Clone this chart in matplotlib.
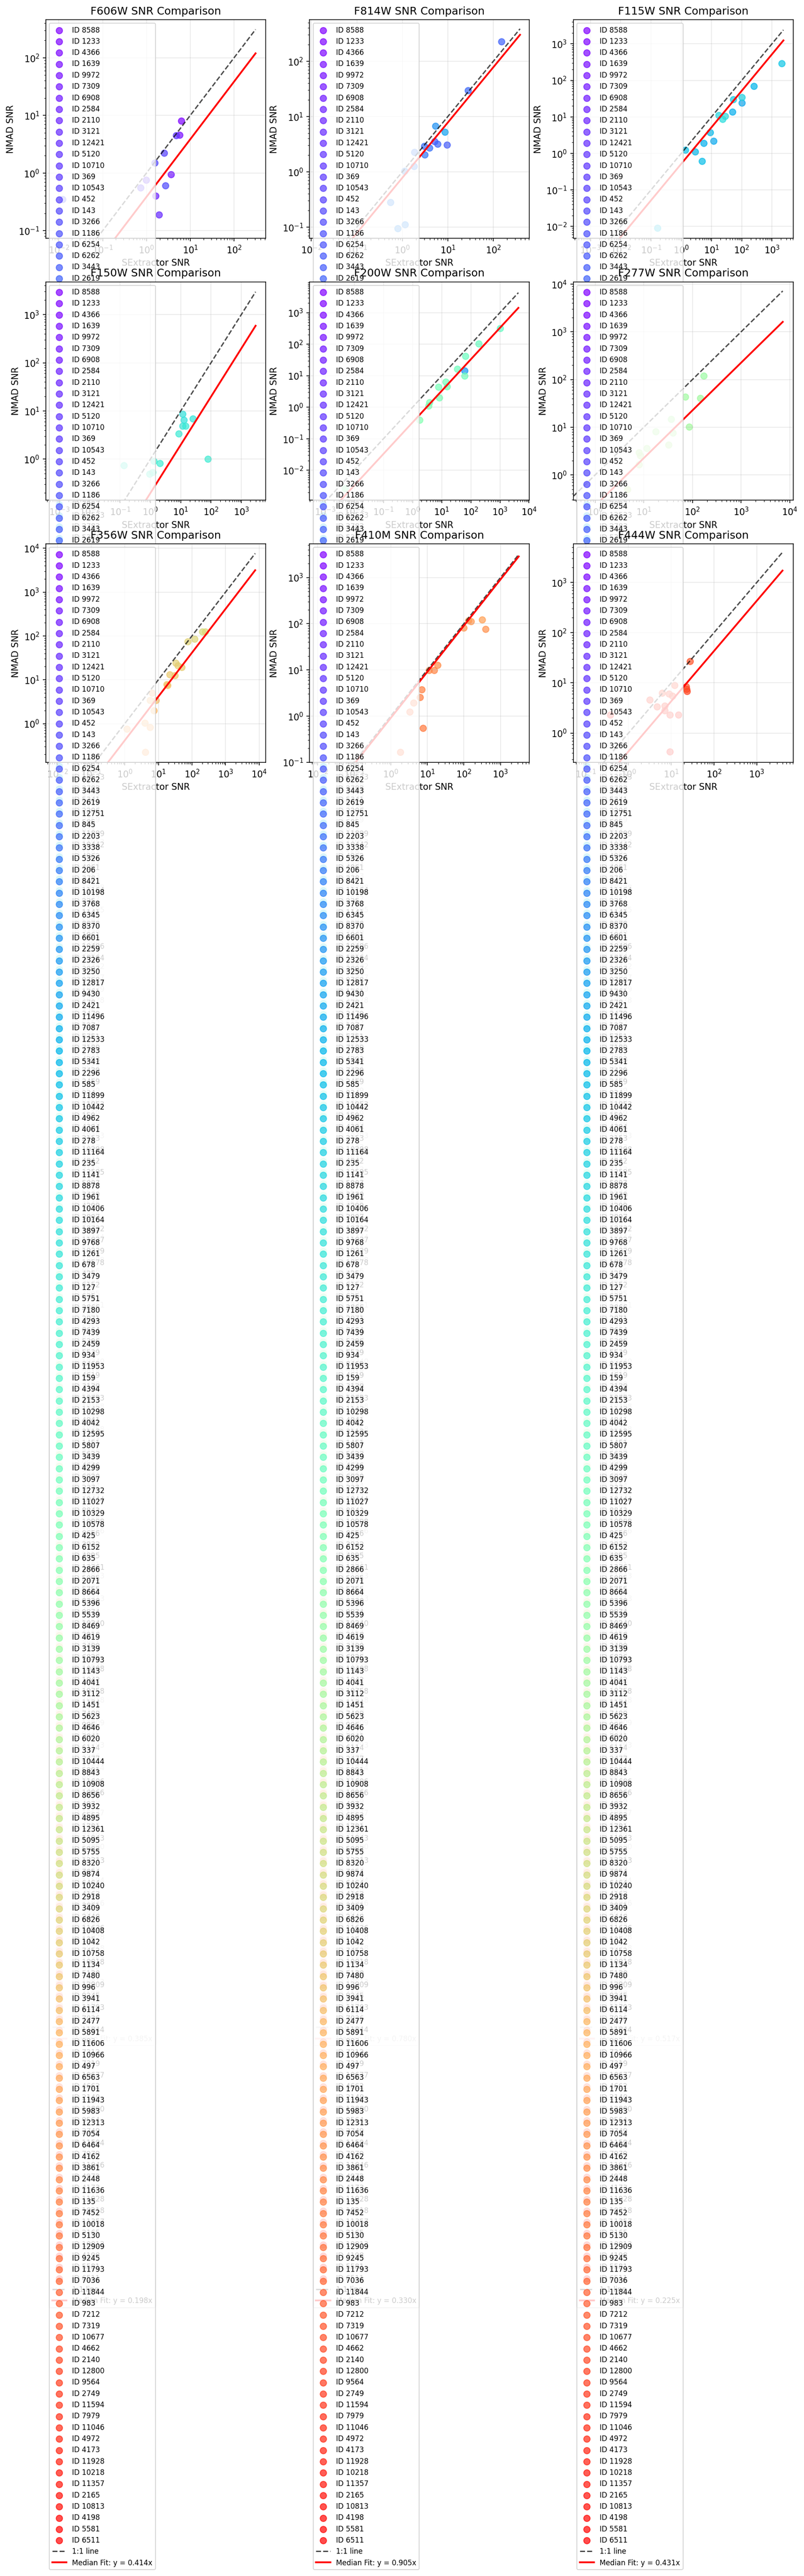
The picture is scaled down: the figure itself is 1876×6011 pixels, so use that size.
import numpy as np
import matplotlib.pyplot as plt

# source IDs in catalogue order (legend order)
source_ids = [
    8588, 1233, 4366, 1639, 9972, 7309, 6908, 2584, 2110, 3121, 12421, 5120, 10710, 369, 10543, 452, 143, 3266, 1186, 6254,
    6262, 3443, 2619, 12751, 845, 2203, 3338, 5326, 206, 8421, 10198, 3768, 6345, 8370, 6601, 2259, 2326, 3250, 12817, 9430,
    2421, 11496, 7087, 12533, 2783, 5341, 2296, 585, 11899, 10442, 4962, 4061, 278, 11164, 235, 1141, 8878, 1961, 10406, 10164,
    3897, 9768, 1261, 678, 3479, 127, 5751, 7180, 4293, 7439, 2459, 934, 11953, 159, 4394, 2153, 10298, 4042, 12595,
    5807, 3439, 4299, 3097, 12732, 11027, 10329, 10578, 425, 6152, 635, 2866, 2071, 8664, 5396, 5539, 8469, 4619, 3139,
    10793, 1143, 4041, 3112, 1451, 5623, 4646, 6020, 337, 10444, 8843, 10908, 8656, 3932, 4895, 12361, 5095, 5755, 8320, 9874,
    10240, 2918, 3409, 6826, 10408, 1042, 10758, 1134, 7480, 996, 3941, 6114, 2477, 5891, 11606, 10966, 497, 6563, 1701, 11943,
    5983, 12313, 7054, 6464, 4162, 3861, 2448, 11636, 135, 7452, 10018, 5130, 12909, 9245, 11793, 7036, 11844, 983, 7212,
    7319, 10677, 4662, 2140, 12800, 9564, 2749, 11594, 7979, 11046, 4972, 4173, 11928, 10218, 11357, 2165, 10813, 4198, 5581, 6511,
]

filters = ['F606W', 'F814W', 'F115W', 'F150W', 'F200W', 'F277W', 'F356W', 'F410M', 'F444W']

# --- measurements per filter: id, SExtractor SNR, NMAD SNR ---
f606w_id = [1233, 1639, 7309, 2584, 3121, 10710, 452, 143, 3266, 12421, 369, 6254]
f606w_sex = [6.25, 5.70, 3.63, 1.61, 1.92, 4.79, 2.56, 1.54, 2.70, 0.98, 0.74, 0.012]
f606w_nmad = [7.98, 4.60, 0.95, 0.40, 0.19, 4.47, 2.24, 1.51, 0.61, 0.76, 0.56, 0.35]

f814w_id = [6262, 3443, 12751, 9430, 2619, 845, 6601, 2203, 3338, 5326, 206, 8421, 10198, 3768, 6345, 8370]
f814w_sex = [5.06, 9.48, 5.93, 8.67, 149, 27.7, 5.33, 3.02, 3.91, 3.13, 1.86, 1.79, 1.12, 0.55, 1.15, 0.79]
f814w_nmad = [3.52, 3.05, 3.19, 5.25, 225, 29.8, 6.73, 2.90, 2.72, 2.02, 2.28, 1.26, 1.03, 0.28, 0.11, 0.095]

f115w_id = [2421, 7087, 2783, 2296, 11899, 4962, 278, 235, 8878, 10406, 10164, 11496, 12533, 5341, 585, 10442]
f115w_sex = [100, 48.8, 254, 9.12, 1.38, 2080, 52.5, 100, 17.3, 28.6, 23.1, 11.9, 5.50, 2.90, 4.88, 0.164]
f115w_nmad = [23.9, 13.6, 69, 3.78, 1.24, 288, 29.9, 34.2, 11.0, 10.6, 8.7, 2.19, 1.89, 1.12, 0.61, 0.009]

f150w_id = [3897, 9768, 1261, 678, 3479, 127, 5751, 7180, 4293, 2459, 934, 11953]
f150w_sex = [11.4, 12.6, 25.2, 11.7, 14.5, 8.49, 78.2, 2.07, 1.30, 0.133, 0.94, 1.19]
f150w_nmad = [8.65, 6.5, 6.98, 4.85, 4.92, 3.37, 1.02, 0.82, 0.92, 0.75, 0.49, 0.53]

f200w_id = [5807, 3439, 4299, 3097, 2326, 12732, 11027, 10329, 10578, 425, 6152, 635, 2866, 8664]
f200w_sex = [1000, 186, 64.6, 33.9, 61.7, 61.7, 13.8, 7.69, 15.0, 8.32, 3.80, 3.51, 1.74, 0.0048]
f200w_nmad = [316, 105, 41.7, 16.2, 14.5, 10.0, 6.3, 4.42, 4.53, 2.03, 1.43, 1.10, 0.39, 0.0026]

f277w_id = [10793, 1143, 4041, 3112, 1451, 5623, 4646, 6020, 337, 10444, 8843, 10908, 8656]
f277w_sex = [169, 70.8, 144, 85.1, 36.3, 17.6, 39.8, 11.5, 32.4, 7.94, 8.51, 7.94, 4.59]
f277w_nmad = [120, 43.7, 40.7, 10.2, 14.8, 8.17, 7.67, 3.58, 4.25, 2.95, 2.54, 1.64, 0.50]

f356w_id = [10240, 2918, 3409, 6826, 10408, 1042, 10758, 1134, 7480, 996, 3941, 6114, 2477, 5891, 11606, 10966, 497, 6563, 1701]
f356w_sex = [200, 251, 120, 74, 32.9, 37.7, 49, 21.9, 30.9, 17.8, 19.0, 8.43, 5.62, 7.41, 3.98, 5.62, 1.17, 4.13, 6.6]
f356w_nmad = [125, 125, 85, 74, 24, 20.9, 19.5, 13.3, 12.6, 7.76, 7.5, 3.44, 3.44, 1.97, 1.04, 0.82, 0.75, 0.225, 5.0]

f410m_id = [5983, 12313, 7054, 6464, 4162, 3861, 2448, 11636, 135, 7452, 10018, 5130, 12909, 9245]
f410m_sex = [316, 135, 158, 100, 389, 19.3, 11.2, 15.5, 7.08, 6.25, 7.55, 4.17, 3.34, 1.84]
f410m_nmad = [123, 117, 112, 81, 76, 12.7, 9.84, 9.84, 3.74, 2.54, 0.55, 1.94, 1.23, 0.166]

f444w_id = [7319, 10677, 4662, 2140, 12800, 9564, 2749, 11594, 7979, 11046, 4972, 4173, 11928, 10218, 11357, 2165]
f444w_sex = [27.5, 22.4, 22.9, 23.4, 12.0, 6.17, 8.91, 10.7, 3.16, 4.68, 7.08, 7.08, 9.33, 14.8, 0.38, 9.33]
f444w_nmad = [26.9, 8.51, 7.59, 6.76, 8.91, 6.31, 6.03, 5.5, 4.57, 3.39, 3.51, 2.82, 2.32, 2.32, 2.32, 0.43]

all_id = [f606w_id, f814w_id, f115w_id, f150w_id, f200w_id, f277w_id, f356w_id, f410m_id, f444w_id]
all_sex = [f606w_sex, f814w_sex, f115w_sex, f150w_sex, f200w_sex, f277w_sex, f356w_sex, f410m_sex, f444w_sex]
all_nmad = [f606w_nmad, f814w_nmad, f115w_nmad, f150w_nmad, f200w_nmad, f277w_nmad, f356w_nmad, f410m_nmad, f444w_nmad]

median_slope = [0.385, 0.780, 0.517, 0.198, 0.330, 0.225, 0.414, 0.905, 0.431]
# SNR range covered by the reference lines
line_lo = [0.006, 0.01, 0.0003, 0.0004, 0.0003, 0.36, 0.005, 0.007, 0.06]
line_hi = [310, 385, 2400, 2960, 4300, 7200, 7600, 3160, 4000]

# axis ranges (log10)
xlim_log = [(-2.30, 2.72), (-2.04, 2.79), (-3.57, 3.70), (-3.45, 3.80), (-3.54, 4.01),
            (-0.45, 4.07), (-2.35, 4.19), (-2.22, 3.79), (-1.29, 3.85)]
ylim_log = [(-1.13, 2.66), (-1.20, 2.75), (-2.32, 3.66), (-0.85, 3.68), (-2.95, 3.98),
            (-0.53, 4.05), (-0.88, 4.10), (-1.00, 3.73), (-0.58, 3.77)]

colors = plt.cm.rainbow(np.linspace(0, 1, len(source_ids)))

fig, axes = plt.subplots(3, 3, figsize=(15, 15))

for k, ax in enumerate(axes.flat):
    pts = dict(zip(all_id[k], zip(all_sex[k], all_nmad[k])))
    for i, sid in enumerate(source_ids):
        if sid in pts:
            xs, ys = [pts[sid][0]], [pts[sid][1]]
        else:
            xs, ys = [], []
        ax.scatter(xs, ys, color=colors[i], alpha=0.7, s=50, label=f'ID {sid}')

    xx = np.array([line_lo[k], line_hi[k]])
    ax.plot(xx, xx, 'k--', alpha=0.7, lw=1.5, label='1:1 line')
    ax.plot(xx, median_slope[k] * xx, 'r-', lw=2,
            label=f'Median Fit: y = {median_slope[k]:.3f}x')

    ax.set_xscale('log')
    ax.set_yscale('log')
    ax.set_xlim(10 ** xlim_log[k][0], 10 ** xlim_log[k][1])
    ax.set_ylim(10 ** ylim_log[k][0], 10 ** ylim_log[k][1])
    ax.set_xlabel('SExtractor SNR')
    ax.set_ylabel('NMAD SNR')
    ax.set_title(f'{filters[k]} SNR Comparison')
    ax.grid(True, alpha=0.3)
    ax.legend(loc='upper left', fontsize=8)

plt.savefig('out.png', dpi=150, bbox_inches='tight')
